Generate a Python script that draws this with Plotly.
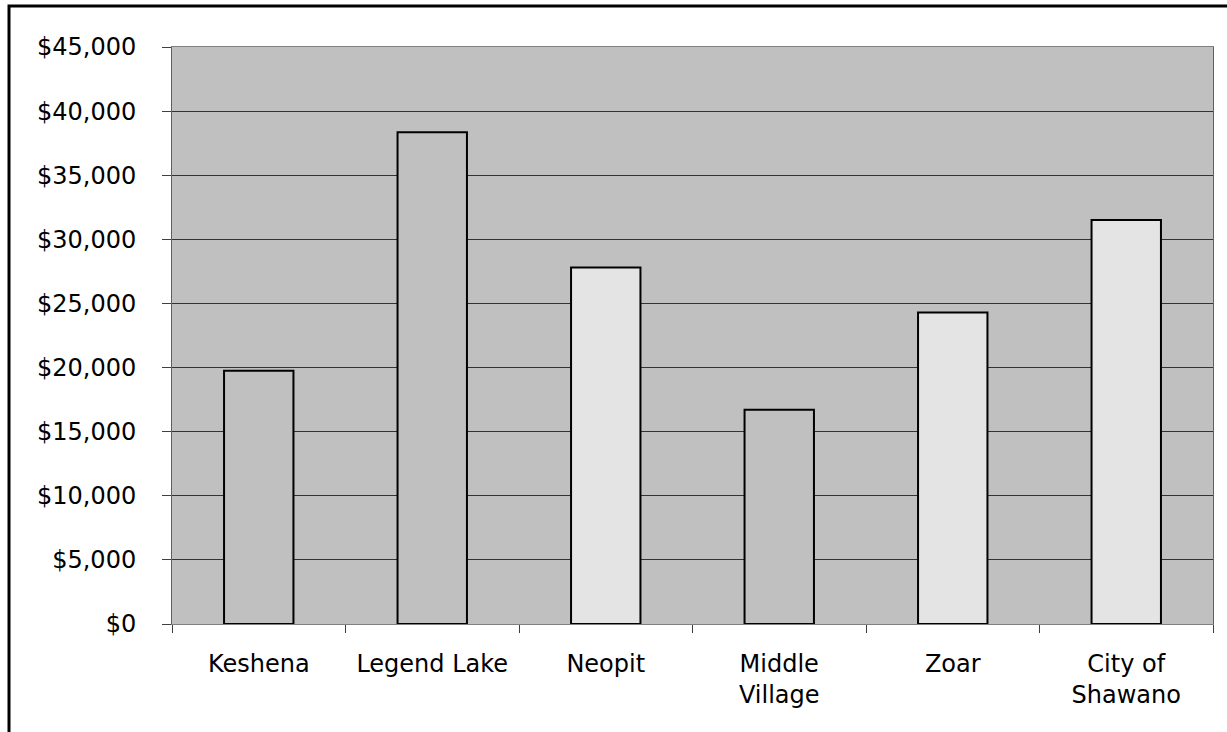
import plotly.graph_objects as go

categories = ["Keshena", "Legend Lake", "Neopit", "Middle<br>Village", "Zoar", "City of<br>Shawano"]
values = [19750, 38350, 27800, 16700, 24300, 31500]
bar_colors = ["#C0C0C0", "#C0C0C0", "#E4E4E4", "#C0C0C0", "#E4E4E4", "#E4E4E4"]
y_ticks = [0, 5000, 10000, 15000, 20000, 25000, 30000, 35000, 40000, 45000]
y_ticklabels = ["$" + format(v, ",") for v in y_ticks]

W, H = 1227, 732
ml, mr, mt, mb = 172, 14, 47, 108
pw, ph = W - ml - mr, H - mt - mb

fig = go.Figure(go.Bar(
    x=categories, y=values,
    marker=dict(color=bar_colors, line=dict(color="black", width=2)),
    width=0.4,
))

font = dict(family="DejaVu Sans, Verdana, sans-serif", size=24, color="black")

fig.update_layout(
    width=W, height=H,
    margin=dict(l=ml, r=mr, t=mt, b=mb, pad=0),
    paper_bgcolor="white", plot_bgcolor="#C0C0C0",
    font=font, showlegend=False,
    bargap=0.6,
)
fig.update_xaxes(
    type="category", tickson="boundaries", ticks="outside", ticklen=8, tickcolor="#404040",
    showline=True, linecolor="#808080", linewidth=1, mirror=True,
    showgrid=False, tickfont=font, ticklabelstandoff=18,
)
fig.update_yaxes(
    range=[0, 45000], tickvals=y_ticks, ticktext=y_ticklabels,
    ticks="outside", ticklen=9, tickcolor="#404040",
    showline=True, linecolor="#606060", linewidth=1, mirror=True,
    showgrid=True, gridcolor="#333333", gridwidth=1, zeroline=False,
    tickfont=font, ticklabelstandoff=21,
)

# outer chart border (cut off at right and bottom as in reference)
fig.add_shape(type="rect", xref="paper", yref="paper",
              x0=(9 - ml) / pw, x1=(W + 10 - ml) / pw,
              y0=-(H + 10 - mt - ph) / ph, y1=1 + (mt - 6) / ph,
              line=dict(color="black", width=3), fillcolor="rgba(0,0,0,0)", layer="below")

fig.write_html("out.html", config={"displayModeBar": False},
               post_script="document.body.style.margin='0px';")
